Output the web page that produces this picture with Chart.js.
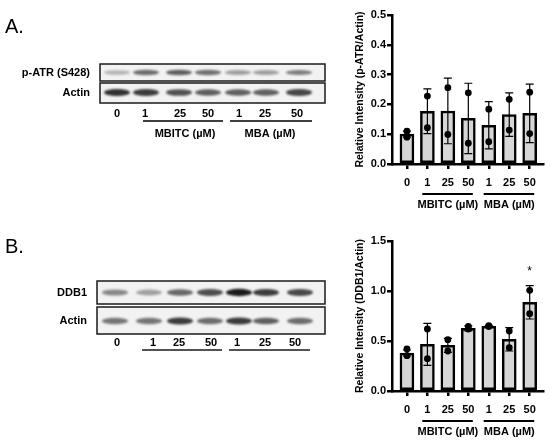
<!DOCTYPE html>
<html>
<head>
<meta charset="utf-8">
<script src="https://cdn.jsdelivr.net/npm/chart.js@4.4.0/dist/chart.umd.min.js"></script>
<style>
  html, body { margin: 0; padding: 0; background: #fff; }
  #figure { position: relative; width: 550px; height: 443px; overflow: hidden; }
  #figure canvas { position: absolute; }
</style>
</head>
<body>
<div id="figure">
  <canvas id="blots" width="340" height="443" style="left:0;top:0"></canvas>
  <canvas id="chartAtr" width="210" height="222" style="left:340px;top:0"></canvas>
  <canvas id="chartDdb1" width="210" height="221" style="left:340px;top:222px"></canvas>
</div>
<script>
const doseLabels = ["0", "1", "25", "50", "1", "25", "50"];
const groupLabels = ["MBITC (µM)", "MBA (µM)"];
const groupFirst = [1, 4];
const groupLast = [3, 6];

// p-ATR (S428) / Actin
const atrMean = [0.100, 0.177, 0.178, 0.153, 0.130, 0.166, 0.170];
const atrSd = [0.010, 0.075, 0.110, 0.118, 0.079, 0.073, 0.098];
const atrRepA = [0.110, 0.228, 0.256, 0.239, 0.184, 0.217, 0.241];
const atrRepB = [0.090, 0.122, 0.099, 0.070, 0.075, 0.114, 0.102];
const atrTicks = [0, 0.1, 0.2, 0.3, 0.4, 0.5];
const atrMarks = ["", "", "", "", "", "", ""];

// DDB1 / Actin
const ddb1Mean = [0.380, 0.467, 0.457, 0.627, 0.647, 0.517, 0.887];
const ddb1Sd = [0.030, 0.210, 0.070, 0.025, 0.010, 0.117, 0.167];
const ddb1RepA = [0.420, 0.620, 0.513, 0.647, 0.653, 0.600, 1.007];
const ddb1RepB = [0.353, 0.323, 0.400, 0.620, 0.645, 0.433, 0.773];
const ddb1Ticks = [0, 0.5, 1.0, 1.5];
const ddb1Marks = ["", "", "", "", "", "", "*"];

// blot band darkness per lane
const atrBands = [0.28, 0.6, 0.66, 0.58, 0.38, 0.38, 0.52];
const actinABands = [0.88, 0.82, 0.72, 0.66, 0.66, 0.66, 0.78];
const ddb1Bands = [0.48, 0.36, 0.62, 0.74, 0.97, 0.82, 0.76];
const actinBBands = [0.56, 0.56, 0.82, 0.6, 0.82, 0.66, 0.6];

const FONT = "'Liberation Sans', Arial, Helvetica, sans-serif";

function drawBlotStrip(ctx, box, lanes, bands) {
  ctx.save();
  ctx.fillStyle = "#f2f2f2";
  ctx.fillRect(box.x, box.y, box.w, box.h);
  ctx.beginPath();
  ctx.rect(box.x, box.y, box.w, box.h);
  ctx.clip();
  ctx.filter = "blur(1.3px)";
  bands.forEach((b, i) => {
    ctx.fillStyle = `rgba(20,20,20,${b})`;
    ctx.beginPath();
    ctx.ellipse(lanes[i], box.bandY, 13, box.bandH / 2 + b * 1.2, 0, 0, Math.PI * 2);
    ctx.fill();
  });
  ctx.restore();
  ctx.strokeStyle = "#1a1a1a";
  ctx.lineWidth = 1.5;
  ctx.strokeRect(box.x, box.y, box.w, box.h);
}

function drawText(ctx, text, x, y, align, font) {
  ctx.font = font;
  ctx.fillStyle = "#000";
  ctx.textAlign = align;
  ctx.textBaseline = "middle";
  ctx.fillText(text, x, y);
}

function drawBlots() {
  const ctx = document.getElementById("blots").getContext("2d");
  const bold = `bold 11px ${FONT}`;

  ctx.font = `20px ${FONT}`;
  ctx.fillStyle = "#000";
  ctx.textAlign = "left";
  ctx.textBaseline = "alphabetic";
  ctx.fillText("A.", 5, 33);
  ctx.fillText("B.", 5, 253);

  // panel A
  const lanesA = [117, 146, 179, 208, 238, 266, 299];
  drawBlotStrip(ctx, { x: 100, y: 64, w: 225, h: 17, bandY: 72.5, bandH: 4 }, lanesA, atrBands);
  drawBlotStrip(ctx, { x: 100, y: 83, w: 225, h: 20, bandY: 92.5, bandH: 5 }, lanesA, actinABands);
  drawText(ctx, "p-ATR (S428)", 90, 73, "right", bold);
  drawText(ctx, "Actin", 90, 93, "right", bold);
  const labelXA = [117, 145, 180, 208, 239, 265, 297];
  doseLabels.forEach((t, i) => drawText(ctx, t, labelXA[i], 114, "center", bold));
  ctx.strokeStyle = "#000";
  ctx.lineWidth = 1.5;
  ctx.beginPath();
  ctx.moveTo(143, 121); ctx.lineTo(223, 121);
  ctx.moveTo(230, 121); ctx.lineTo(312, 121);
  ctx.stroke();
  drawText(ctx, groupLabels[0], 185, 134, "center", bold);
  drawText(ctx, groupLabels[1], 270, 134, "center", bold);

  // panel B
  const lanesB = [115, 149, 180, 210, 239, 266, 300];
  drawBlotStrip(ctx, { x: 97, y: 281, w: 228, h: 23, bandY: 292.5, bandH: 5 }, lanesB, ddb1Bands);
  drawBlotStrip(ctx, { x: 97, y: 307, w: 228, h: 27, bandY: 321, bandH: 5 }, lanesB, actinBBands);
  drawText(ctx, "DDB1", 87, 293, "right", bold);
  drawText(ctx, "Actin", 87, 321, "right", bold);
  const labelXB = [117, 153, 179, 211, 237, 265, 295];
  doseLabels.forEach((t, i) => drawText(ctx, t, labelXB[i], 343, "center", bold));
  ctx.beginPath();
  ctx.moveTo(142, 350); ctx.lineTo(222, 350);
  ctx.moveTo(229, 350); ctx.lineTo(310, 350);
  ctx.stroke();
}

function makeOverlay(mean, sd, marks) {
  return {
    id: "overlay",
    afterDatasetDraw(chart, args) {
      if (args.meta.type !== "bar") return;
      const { ctx, scales: { x, y } } = chart;
      ctx.save();
      ctx.strokeStyle = "#000";
      ctx.lineWidth = 1.2;
      mean.forEach((m, i) => {
        const px = x.getPixelForValue(i);
        const top = y.getPixelForValue(m + sd[i]);
        const bottom = y.getPixelForValue(Math.max(0, m - sd[i]));
        ctx.beginPath();
        ctx.moveTo(px, top); ctx.lineTo(px, bottom);
        ctx.moveTo(px - 4, top); ctx.lineTo(px + 4, top);
        ctx.moveTo(px - 4, bottom); ctx.lineTo(px + 4, bottom);
        ctx.stroke();
        if (marks[i]) {
          ctx.font = `12px ${FONT}`;
          ctx.fillStyle = "#000";
          ctx.textAlign = "center";
          ctx.textBaseline = "alphabetic";
          ctx.fillText(marks[i], px, top - 11);
        }
      });
      ctx.restore();
    },
    afterDraw(chart) {
      const { ctx, chartArea, scales: { x } } = chart;
      ctx.save();
      ctx.strokeStyle = "#000";
      ctx.lineWidth = 2;
      groupLabels.forEach((label, g) => {
        const x0 = x.getPixelForValue(groupFirst[g] - 0.25);
        const x1 = x.getPixelForValue(groupLast[g] + 0.22);
        const ly = chartArea.bottom + 30;
        ctx.beginPath();
        ctx.moveTo(x0, ly); ctx.lineTo(x1, ly);
        ctx.stroke();
        const cx = x.getPixelForValue((groupFirst[g] + groupLast[g]) / 2);
        drawText(ctx, label, cx, chartArea.bottom + 41, "center", `bold 11px ${FONT}`);
      });
      ctx.restore();
    }
  };
}

function renderIntensityChart(canvasId, opts) {
  const canvas = document.getElementById(canvasId);
  const points = [
    ...opts.repA.map((v, i) => ({ x: i, y: v })),
    ...opts.repB.map((v, i) => ({ x: i, y: v }))
  ];
  const axisGrid = { display: true, drawOnChartArea: false, drawTicks: true, tickLength: 5, color: "#000", lineWidth: 2.5, offset: false };
  const tickFont = { family: FONT, size: 11, weight: "bold" };

  return new Chart(canvas, {
    type: "bar",
    data: {
      datasets: [
        {
          type: "scatter",
          data: points,
          order: 0,
          pointRadius: 3.4,
          pointBackgroundColor: "#000",
          pointBorderWidth: 0
        },
        {
          type: "bar",
          data: opts.mean.map((v, i) => ({ x: i, y: v })),
          order: 1,
          backgroundColor: "#d6d6d6",
          borderColor: "#000",
          borderWidth: 2.5,
          borderSkipped: false,
          barThickness: 14
        }
      ]
    },
    options: {
      responsive: false,
      animation: false,
      layout: { padding: { top: opts.top, left: 0, right: 7, bottom: 0 } },
      plugins: { legend: { display: false }, tooltip: { enabled: false } },
      scales: {
        x: {
          type: "linear",
          bounds: "data",
          min: -0.73,
          max: 6.65,
          offset: false,
          grid: axisGrid,
          border: { display: true, color: "#000", width: 2.5 },
          afterBuildTicks: (scale) => { scale.ticks = doseLabels.map((_, i) => ({ value: i })); },
          afterFit: (scale) => { scale.height = opts.xHeight; scale.paddingLeft = 0; scale.paddingRight = 0; },
          ticks: {
            autoSkip: false,
            maxRotation: 0,
            color: "#000",
            padding: 7,
            font: tickFont,
            callback: (value) => doseLabels[value] ?? ""
          }
        },
        y: {
          min: opts.ticks[0],
          max: opts.ticks[opts.ticks.length - 1],
          grid: axisGrid,
          border: { display: true, color: "#000", width: 2.5 },
          afterBuildTicks: (scale) => { scale.ticks = opts.ticks.map((v) => ({ value: v })); },
          afterFit: (scale) => { scale.width = 52; scale.paddingTop = 0; scale.paddingBottom = 0; },
          title: {
            display: true,
            text: opts.title,
            color: "#000",
            font: { family: FONT, size: 10.5, weight: "bold" },
            padding: { top: 13.7, bottom: 0 }
          },
          ticks: {
            color: "#000",
            padding: 1,
            font: tickFont,
            callback: (value) => Number(value).toFixed(1)
          }
        }
      }
    },
    plugins: [makeOverlay(opts.mean, opts.sd, opts.marks)]
  });
}

drawBlots();

renderIntensityChart("chartAtr", {
  title: "Relative Intensity (p-ATR/Actin)",
  mean: atrMean, sd: atrSd, repA: atrRepA, repB: atrRepB,
  ticks: atrTicks, marks: atrMarks, top: 15, xHeight: 58
});

renderIntensityChart("chartDdb1", {
  title: "Relative Intensity (DDB1/Actin)",
  mean: ddb1Mean, sd: ddb1Sd, repA: ddb1RepA, repB: ddb1RepB,
  ticks: ddb1Ticks, marks: ddb1Marks, top: 19, xHeight: 52
});
</script>
</body>
</html>
